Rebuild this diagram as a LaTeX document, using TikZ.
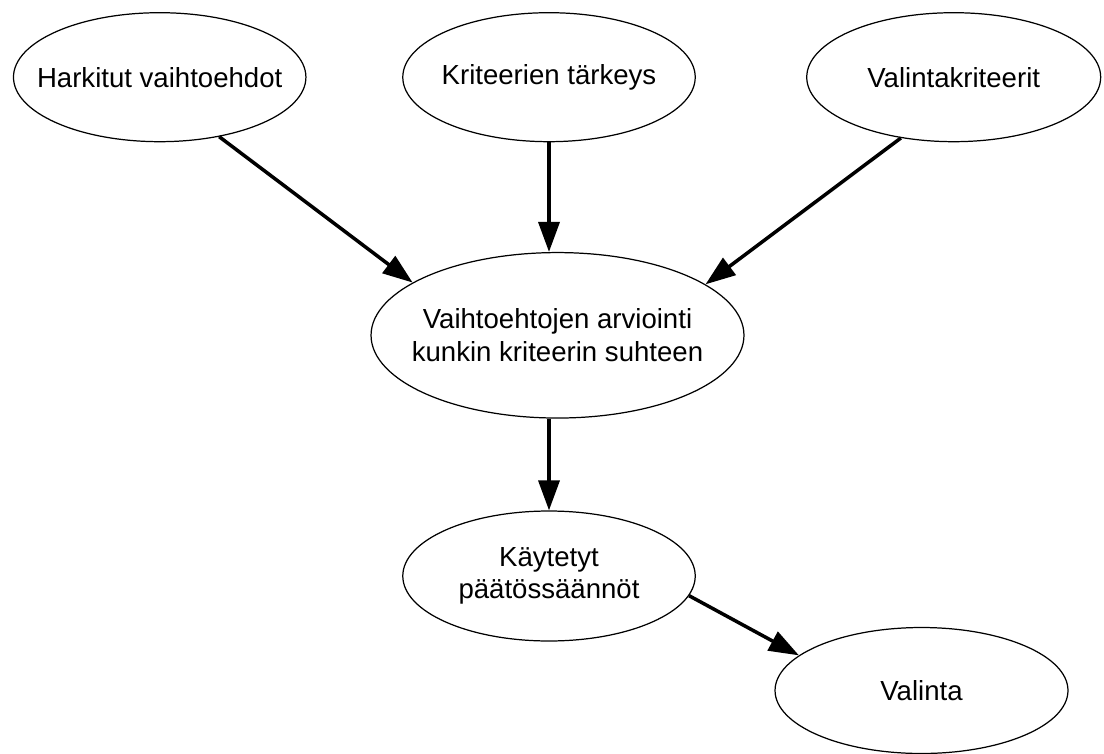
\documentclass[tikz,border=0pt]{standalone}
\usepackage{fontspec}
\setmainfont{Liberation Sans}
\usetikzlibrary{shapes.geometric,arrows.meta}

\begin{document}
\begin{tikzpicture}[x=0.02cm,y=-0.02cm,
  font=\fontsize{15.7}{18.6}\selectfont,
  bubble/.style={ellipse, draw, line width=0.7pt, inner sep=0pt,
    minimum width=5.85cm, minimum height=2.58cm},
  flow/.style={-{Triangle[length=0.6cm,width=0.42cm]}, line width=2pt}]
  \useasboundingbox (0,0) rectangle (1104,753);

  % Top row of ellipses
  \node[bubble, label={[align=center]center:Harkitut vaihtoehdot}] (harkitut) at (159.7,77.2) {};
  \node[bubble, label={[align=center]center:Kriteerien tärkeys}] (tarkeys) at (549,77.2) {};
  \node[bubble, minimum width=5.88cm,
    label={[align=center]center:Valintakriteerit}] (kriteerit) at (953.7,77.2) {};

  % Evaluation in the middle
  \node[bubble, minimum width=7.46cm, minimum height=3.31cm,
    label={[align=center]center:{Vaihtoehtojen arviointi\\kunkin kriteerin suhteen}}] (arviointi) at (557.5,335.3) {};

  % Decision rules and the choice
  \node[bubble, minimum height=2.6cm,
    label={[align=center]center:{Käytetyt\\päätössäännöt}}] (saannot) at (549,576) {};
  \node[bubble, minimum width=5.86cm, minimum height=2.52cm,
    label={[align=center]center:Valinta}] (valinta) at (921.5,690.5) {};

  % Arrows
  \draw[flow] (harkitut.-45.9) -- (arviointi.160.5);
  \draw[flow] (tarkeys.south) -- (tarkeys.south |- arviointi.north);
  \draw[flow] (kriteerit.-131.7) -- (arviointi.19.8);
  \draw[flow] (saannot.north |- arviointi.south) -- (saannot.north);
  \draw[flow] (saannot.-8.8) -- (valinta.164.9);
\end{tikzpicture}
\end{document}
